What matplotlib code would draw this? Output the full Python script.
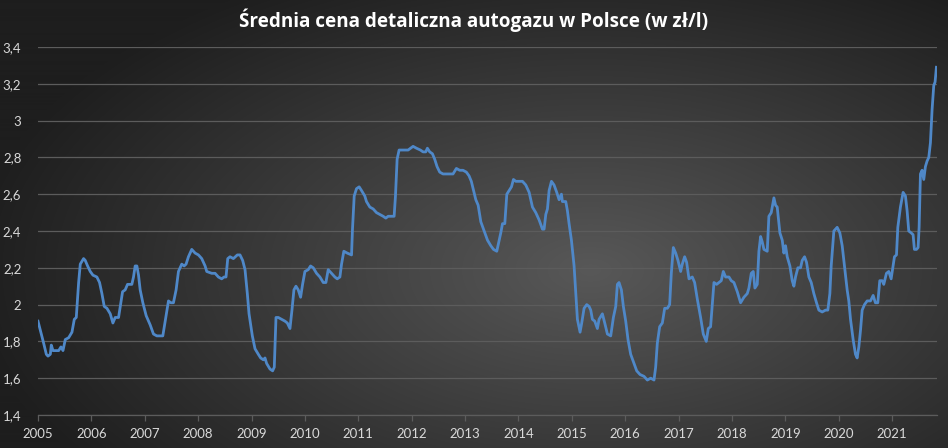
import numpy as np
import matplotlib
matplotlib.use("Agg")
import matplotlib.pyplot as plt
from matplotlib.ticker import FixedLocator, FuncFormatter

# ---- data ----
years = [
    2005.000, 2005.044, 2005.106, 2005.156, 2005.187, 2005.231, 2005.249, 2005.281, 2005.387, 2005.430,
    2005.468, 2005.511, 2005.574, 2005.636, 2005.680, 2005.717, 2005.761, 2005.792, 2005.854, 2005.885,
    2005.929, 2005.979, 2006.029, 2006.103, 2006.153, 2006.197, 2006.241, 2006.291, 2006.353, 2006.403,
    2006.446, 2006.509, 2006.552, 2006.584, 2006.633, 2006.677, 2006.758, 2006.789, 2006.820, 2006.852,
    2006.883, 2006.914, 2006.964, 2007.026, 2007.101, 2007.163, 2007.226, 2007.338, 2007.382, 2007.444,
    2007.488, 2007.537, 2007.587, 2007.631, 2007.693, 2007.737, 2007.774, 2007.818, 2007.880, 2007.943,
    2008.005, 2008.067, 2008.130, 2008.161, 2008.254, 2008.317, 2008.379, 2008.441, 2008.485, 2008.522,
    2008.554, 2008.597, 2008.660, 2008.734, 2008.784, 2008.834, 2008.878, 2008.921, 2008.953, 2008.984,
    2009.015, 2009.065, 2009.127, 2009.171, 2009.221, 2009.252, 2009.283, 2009.345, 2009.395, 2009.426,
    2009.458, 2009.501, 2009.564, 2009.626, 2009.670, 2009.720, 2009.757, 2009.794, 2009.832, 2009.875,
    2009.919, 2009.956, 2010.000, 2010.062, 2010.106, 2010.156, 2010.218, 2010.281, 2010.343, 2010.393,
    2010.436, 2010.499, 2010.561, 2010.605, 2010.655, 2010.686, 2010.729, 2010.792, 2010.873, 2010.891,
    2010.923, 2010.966, 2011.016, 2011.060, 2011.122, 2011.153, 2011.216, 2011.278, 2011.340, 2011.403,
    2011.465, 2011.515, 2011.559, 2011.621, 2011.671, 2011.696, 2011.727, 2011.764, 2011.839, 2011.933,
    2012.026, 2012.089, 2012.163, 2012.213, 2012.263, 2012.294, 2012.338, 2012.388, 2012.431, 2012.475,
    2012.525, 2012.587, 2012.650, 2012.712, 2012.774, 2012.837, 2012.899, 2012.961, 2013.024, 2013.074,
    2013.117, 2013.160, 2013.201, 2013.245, 2013.295, 2013.357, 2013.420, 2013.482, 2013.532, 2013.594,
    2013.638, 2013.669, 2013.701, 2013.744, 2013.782, 2013.825, 2013.869, 2013.906, 2013.950, 2014.012,
    2014.075, 2014.137, 2014.200, 2014.262, 2014.324, 2014.387, 2014.449, 2014.480, 2014.512, 2014.543,
    2014.574, 2014.618, 2014.667, 2014.717, 2014.761, 2014.805, 2014.823, 2014.886, 2014.917, 2014.948,
    2014.992, 2015.042, 2015.073, 2015.104, 2015.154, 2015.185, 2015.229, 2015.279, 2015.323, 2015.354,
    2015.385, 2015.429, 2015.478, 2015.510, 2015.572, 2015.616, 2015.666, 2015.728, 2015.778, 2015.822,
    2015.853, 2015.884, 2015.928, 2015.965, 2016.009, 2016.052, 2016.102, 2016.152, 2016.215, 2016.277,
    2016.352, 2016.414, 2016.477, 2016.539, 2016.570, 2016.601, 2016.645, 2016.695, 2016.739, 2016.789,
    2016.832, 2016.863, 2016.901, 2016.945, 2016.988, 2017.038, 2017.069, 2017.113, 2017.150, 2017.194,
    2017.256, 2017.300, 2017.350, 2017.412, 2017.462, 2017.518, 2017.556, 2017.599, 2017.631, 2017.662,
    2017.712, 2017.755, 2017.799, 2017.837, 2017.880, 2017.943, 2017.986, 2018.036, 2018.099, 2018.161,
    2018.223, 2018.286, 2018.317, 2018.361, 2018.398, 2018.429, 2018.473, 2018.504, 2018.536, 2018.567,
    2018.598, 2018.660, 2018.691, 2018.735, 2018.785, 2018.816, 2018.847, 2018.897, 2018.941, 2018.972,
    2019.003, 2019.034, 2019.084, 2019.128, 2019.159, 2019.190, 2019.234, 2019.284, 2019.315, 2019.359,
    2019.396, 2019.440, 2019.484, 2019.533, 2019.583, 2019.627, 2019.689, 2019.752, 2019.795, 2019.833,
    2019.858, 2019.908, 2019.970, 2020.020, 2020.064, 2020.107, 2020.157, 2020.188, 2020.220, 2020.269,
    2020.313, 2020.344, 2020.376, 2020.407, 2020.438, 2020.482, 2020.532, 2020.594, 2020.644, 2020.686,
    2020.731, 2020.768, 2020.812, 2020.843, 2020.893, 2020.937, 2020.981, 2021.018, 2021.043, 2021.081,
    2021.106, 2021.155, 2021.205, 2021.249, 2021.280, 2021.311, 2021.355, 2021.392, 2021.417, 2021.455,
    2021.486, 2021.505, 2021.530, 2021.561, 2021.592, 2021.623, 2021.654, 2021.686, 2021.717, 2021.748,
    2021.779, 2021.804, 2021.829,
]
prices = [
    1.91, 1.86, 1.79, 1.73, 1.72, 1.73, 1.78, 1.75, 1.75, 1.77,
    1.75, 1.81, 1.82, 1.85, 1.92, 1.93, 2.12, 2.22, 2.25, 2.24,
    2.21, 2.18, 2.16, 2.15, 2.12, 2.06, 1.99, 1.98, 1.95, 1.90,
    1.93, 1.93, 2.01, 2.07, 2.08, 2.11, 2.11, 2.15, 2.21, 2.21,
    2.16, 2.08, 2.01, 1.94, 1.89, 1.84, 1.83, 1.83, 1.91, 2.02,
    2.01, 2.01, 2.08, 2.18, 2.22, 2.21, 2.22, 2.26, 2.30, 2.28,
    2.27, 2.25, 2.21, 2.18, 2.17, 2.17, 2.15, 2.14, 2.15, 2.15,
    2.25, 2.26, 2.25, 2.27, 2.27, 2.24, 2.19, 2.06, 1.95, 1.89,
    1.83, 1.76, 1.73, 1.71, 1.70, 1.71, 1.68, 1.65, 1.64, 1.66,
    1.93, 1.93, 1.92, 1.91, 1.90, 1.87, 1.97, 2.08, 2.10, 2.08,
    2.04, 2.11, 2.18, 2.19, 2.21, 2.20, 2.17, 2.15, 2.12, 2.12,
    2.19, 2.17, 2.15, 2.14, 2.15, 2.22, 2.29, 2.28, 2.27, 2.41,
    2.59, 2.63, 2.64, 2.62, 2.59, 2.56, 2.53, 2.52, 2.50, 2.49,
    2.48, 2.47, 2.48, 2.48, 2.48, 2.59, 2.79, 2.84, 2.84, 2.84,
    2.86, 2.85, 2.84, 2.83, 2.83, 2.85, 2.83, 2.82, 2.79, 2.75,
    2.72, 2.71, 2.71, 2.71, 2.71, 2.74, 2.73, 2.73, 2.72, 2.70,
    2.67, 2.62, 2.57, 2.54, 2.45, 2.40, 2.35, 2.32, 2.30, 2.29,
    2.35, 2.39, 2.44, 2.44, 2.60, 2.62, 2.64, 2.68, 2.67, 2.67,
    2.67, 2.65, 2.61, 2.53, 2.50, 2.46, 2.41, 2.41, 2.49, 2.52,
    2.62, 2.67, 2.65, 2.61, 2.57, 2.60, 2.56, 2.56, 2.51, 2.44,
    2.35, 2.21, 2.06, 1.92, 1.85, 1.90, 1.98, 2.00, 1.99, 1.97,
    1.92, 1.91, 1.87, 1.92, 1.95, 1.90, 1.84, 1.83, 1.93, 1.99,
    2.11, 2.12, 2.08, 1.99, 1.91, 1.81, 1.73, 1.69, 1.64, 1.62,
    1.61, 1.59, 1.60, 1.59, 1.66, 1.79, 1.88, 1.90, 1.98, 1.98,
    2.00, 2.17, 2.31, 2.28, 2.24, 2.18, 2.22, 2.26, 2.23, 2.14,
    2.15, 2.12, 2.03, 1.93, 1.84, 1.80, 1.87, 1.88, 2.00, 2.12,
    2.11, 2.12, 2.13, 2.18, 2.15, 2.15, 2.13, 2.12, 2.07, 2.01,
    2.04, 2.06, 2.09, 2.17, 2.18, 2.09, 2.11, 2.29, 2.37, 2.34,
    2.30, 2.29, 2.48, 2.50, 2.58, 2.54, 2.53, 2.39, 2.35, 2.28,
    2.32, 2.26, 2.21, 2.13, 2.10, 2.15, 2.20, 2.20, 2.24, 2.26,
    2.23, 2.15, 2.12, 2.06, 2.01, 1.97, 1.96, 1.97, 1.97, 2.06,
    2.21, 2.40, 2.42, 2.39, 2.32, 2.21, 2.08, 2.02, 1.92, 1.81,
    1.73, 1.71, 1.77, 1.86, 1.97, 2.00, 2.02, 2.02, 2.05, 2.01,
    2.01, 2.13, 2.13, 2.11, 2.17, 2.18, 2.14, 2.21, 2.26, 2.27,
    2.42, 2.53, 2.61, 2.59, 2.51, 2.40, 2.39, 2.38, 2.30, 2.30,
    2.31, 2.42, 2.71, 2.73, 2.68, 2.75, 2.78, 2.80, 2.88, 3.06,
    3.19, 3.21, 3.29,
]
year_ticks = list(range(2005, 2022))
y_ticks = [1.4, 1.6, 1.8, 2.0, 2.2, 2.4, 2.6, 2.8, 3.0, 3.2, 3.4]
title = "Średnia cena detaliczna autogazu w Polsce (w zł/l)"

plt.rcParams['font.family'] = ['Lato', 'DejaVu Sans']

W, H = 948, 448
fig = plt.figure(figsize=(W / 100, H / 100), dpi=100)

# radial gradient background
bg = fig.add_axes([0, 0, 1, 1], zorder=-10)
yy, xx = np.mgrid[0:H, 0:W]
cx, cy = 590, 270
d = np.sqrt(((xx - cx) / 620.0) ** 2 + ((yy - cy) / 330.0) ** 2)
d = np.clip(d, 0, 1)
c0 = np.array([88, 88, 88]) / 255.0
c1 = np.array([30, 30, 30]) / 255.0
img = c0[None, None, :] * (1 - d[..., None]) + c1[None, None, :] * d[..., None]
bg.imshow(img, aspect='auto', extent=[0, 1, 0, 1], origin='upper')
bg.axis('off')

ax = fig.add_axes([38 / W, 33 / H, (937 - 38) / W, (415 - 47) / H])
ax.patch.set_alpha(0)
ax.plot(years, prices, color='#4f88c8', lw=2.0, solid_joinstyle='round', zorder=3)

ax.set_xlim(2005, 2021.84)
ax.set_ylim(1.4, 3.4)
ax.yaxis.set_major_locator(FixedLocator(y_ticks))
ax.xaxis.set_major_locator(FixedLocator(year_ticks))

def yfmt(v, pos):
    s = ('%.1f' % v)
    if s.endswith('.0'):
        s = s[:-2]
    return s.replace('.', ',')

ax.yaxis.set_major_formatter(FuncFormatter(yfmt))
ax.xaxis.set_major_formatter(FuncFormatter(lambda v, p: '%d' % v))

ax.grid(axis='y', color='#5c5c5c', lw=0.9, zorder=1)
for s in ['top', 'right', 'left']:
    ax.spines[s].set_visible(False)
ax.spines['bottom'].set_color('#5c5c5c')
ax.spines['bottom'].set_linewidth(0.9)
ax.tick_params(axis='y', length=0, pad=12, labelcolor='#d9d9d9', labelsize=9.5)
ax.tick_params(axis='x', length=4, width=0.9, color='#5c5c5c', pad=5,
               labelcolor='#d9d9d9', labelsize=9.5)

fig.text(0.5, 1 - 20 / H, title, ha='center', va='center', color='white',
         fontsize=13.6, fontweight='bold', family=['Open Sans', 'DejaVu Sans'])

fig.savefig('out.png', dpi=100)
